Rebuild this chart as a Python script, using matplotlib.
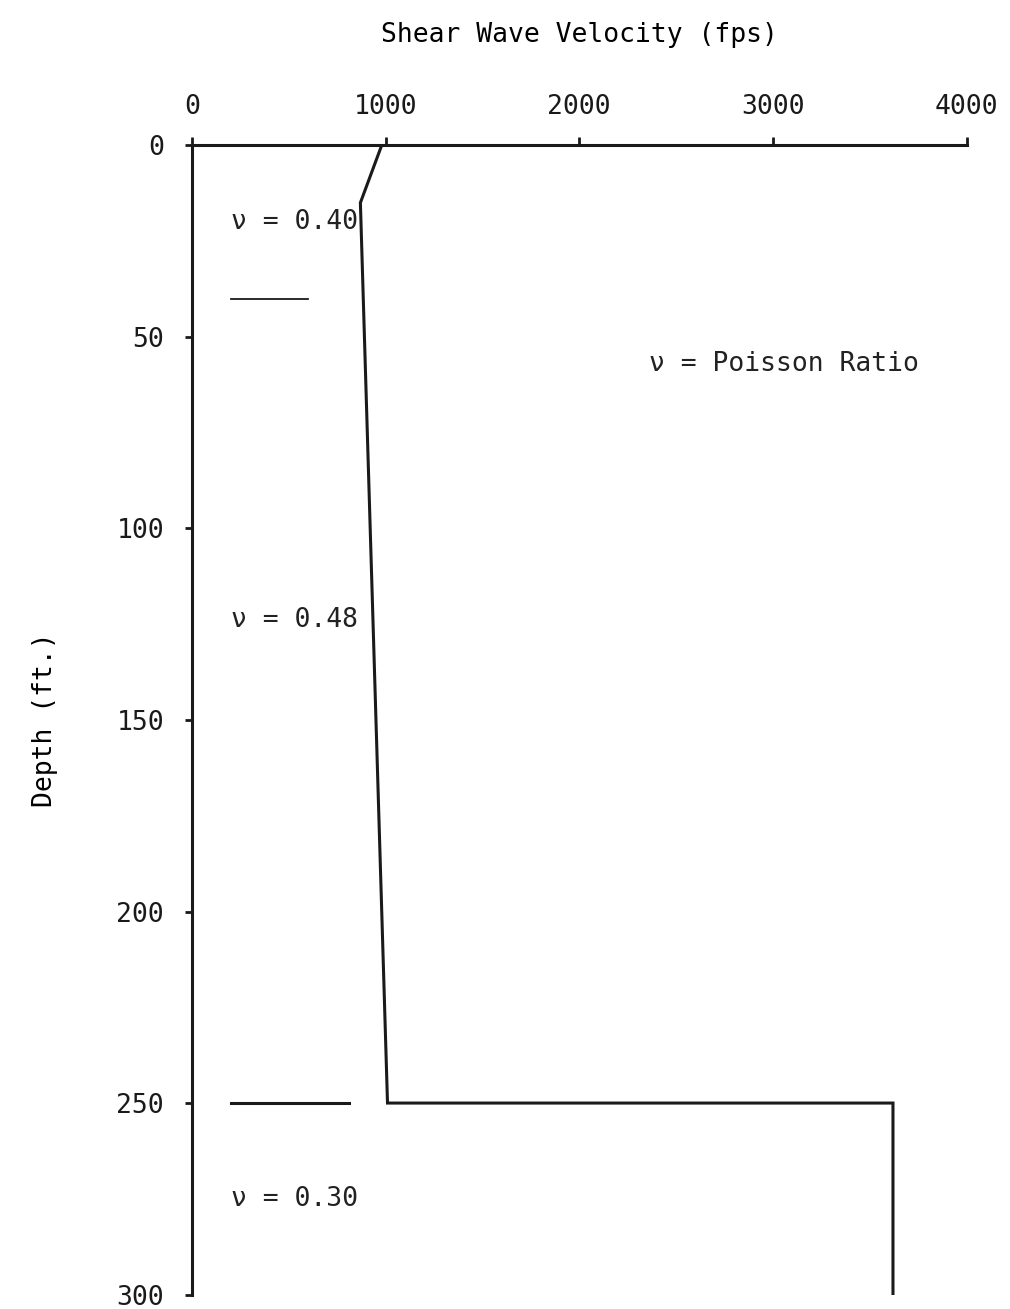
import matplotlib.pyplot as plt

# Shear wave velocity profile (fps) vs depth (ft)
velocity = [980, 870, 1010, 3620, 3620]
depth = [0, 15, 250, 250, 300]

# Layer boundary markers
boundary_depths = [40, 250]
boundary_x0 = [200, 200]
boundary_x1 = [600, 810]
boundary_widths = [1.3, 2.2]

# Poisson ratio labels for each layer
layer_labels = ["\u03bd = 0.40", "\u03bd = 0.48", "\u03bd = 0.30"]
layer_label_depths = [20, 124, 275]
layer_label_x = 200

x_ticks = [0, 1000, 2000, 3000, 4000]
y_ticks = [0, 50, 100, 150, 200, 250, 300]

plt.rcParams['font.family'] = ['DejaVu Sans Mono']
plt.rcParams['font.size'] = 19

fig = plt.figure(figsize=(10.1, 13.09), dpi=100)
ax = fig.add_axes([0.190, 0.011, 0.767, 0.878])

ax.plot(velocity, depth, color='#1a1a1a', linewidth=2.2, solid_joinstyle='miter')

for d, x0, x1, lw in zip(boundary_depths, boundary_x0, boundary_x1, boundary_widths):
    ax.plot([x0, x1], [d, d], color='#1a1a1a', linewidth=lw)

for lab, d in zip(layer_labels, layer_label_depths):
    ax.text(layer_label_x, d, lab, ha='left', va='center', color='#222222')

ax.text(2360, 57, "\u03bd = Poisson Ratio", ha='left', va='center', color='#222222')

ax.set_xlim(0, 4000)
ax.set_ylim(300, 0)
ax.set_xticks(x_ticks)
ax.set_yticks(y_ticks)

ax.xaxis.tick_top()
ax.xaxis.set_label_position('top')
ax.set_xlabel("Shear Wave Velocity (fps)", labelpad=38)
ax.set_ylabel("Depth (ft.)", labelpad=42)

for side in ['right', 'bottom']:
    ax.spines[side].set_visible(False)
for side in ['top', 'left']:
    ax.spines[side].set_linewidth(2.2)
    ax.spines[side].set_color('#1a1a1a')

ax.tick_params(axis='x', direction='out', length=6, width=2, pad=12, colors='#1a1a1a')
ax.tick_params(axis='y', direction='out', length=5, width=2, pad=15, colors='#1a1a1a')

plt.savefig("out.png", dpi=100)
plt.close()
